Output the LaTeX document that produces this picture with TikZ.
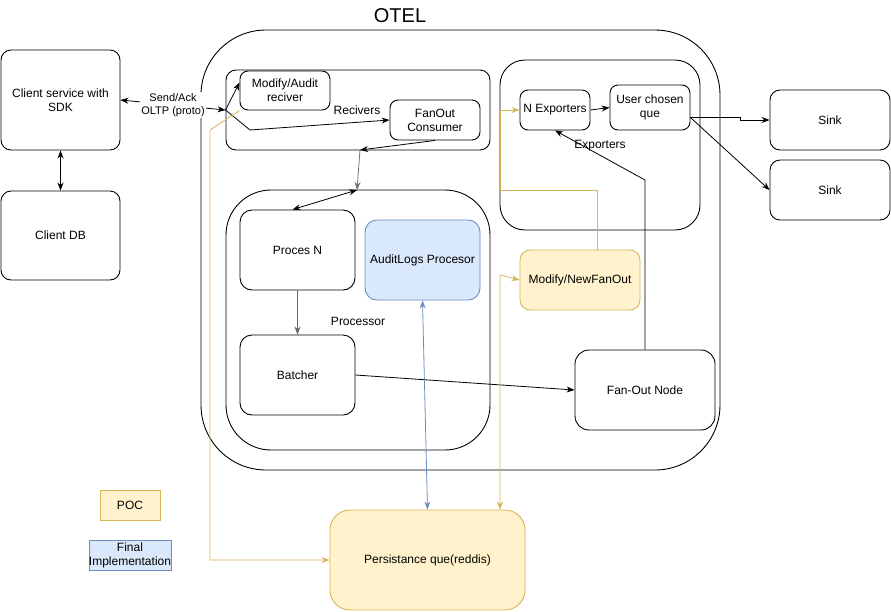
\documentclass[tikz,border=0pt]{standalone}
\usepackage{fontspec}
\setmainfont{Liberation Sans}
\usetikzlibrary{arrows.meta}
\definecolor{pocfill}{HTML}{FFF2CC}
\definecolor{pocdraw}{HTML}{D6B656}
\definecolor{finfill}{HTML}{DAE8FC}
\definecolor{findraw}{HTML}{6C8EBF}
\begin{document}
\begin{tikzpicture}[x=1pt,y=-1pt,
  every node/.style={font=\fontsize{12}{14}\selectfont},
  box/.style={draw, rounded corners=#1, inner sep=0pt, align=center, line width=0.9pt},
  box/.default=10pt,
  container/.style={draw, rounded corners=#1, inner sep=0pt, line width=0.9pt},
  poc/.style={fill=pocfill, draw=pocdraw},
  fin/.style={fill=finfill, draw=findraw},
  tip/.style={Stealth[length=8pt,width=6pt]},
  arr/.style={-{Stealth[length=8pt,width=6pt]}, line width=0.8pt},
  darr/.style={{Stealth[length=8pt,width=6pt]}-{Stealth[length=8pt,width=6pt]}, line width=0.8pt},
  yarr/.style={arr, draw=pocdraw},
  lbl/.style={font=\fontsize{12}{14}\selectfont}
]
\useasboundingbox (0,0) rectangle (891,611);

% containers
\node[container=65pt, minimum width=519pt, minimum height=440pt] (otel) at (460.5,250) {};
\node[lbl, font=\fontsize{20}{24}\selectfont] (oteltitle) at (400,16) {OTEL};
\node[container=10pt, minimum width=264pt, minimum height=80pt] (recv) at (358,110) {};
\node[lbl] (recvlbl) at (357,110) {Recivers};
\node[container=25pt, minimum width=200pt, minimum height=170pt] (expc) at (600,145) {};
\node[container=45pt, minimum width=264pt, minimum height=260pt] (procc) at (358,320) {};
\node[lbl] (proclbl) at (358,321) {Processor};

% nodes
\node[box, minimum width=119pt, minimum height=100pt] (client) at (60.5,100) {Client service with\\SDK};
\node[box, minimum width=119pt, minimum height=89pt] (clientdb) at (60.5,235.5) {Client DB};
\node[box=8pt, minimum width=90pt, minimum height=39pt] (mar) at (285,90.5) {Modify/Audit\\reciver};
\node[box=8pt, minimum width=90pt, minimum height=40pt] (fanout) at (435,120) {FanOut\\Consumer};
\node[box=8pt, minimum width=70pt, minimum height=40pt] (nexp) at (555,110) {N Exporters};
\node[box=8pt, minimum width=80pt, minimum height=45pt] (ucq) at (650,107.5) {User chosen\\que};
\node[box, minimum width=120pt, minimum height=60pt] (sink1) at (830,120) {Sink};
\node[box, minimum width=120pt, minimum height=60pt] (sink2) at (830,190) {Sink};
\node[box=12pt, minimum width=115pt, minimum height=80pt] (procn) at (297.5,250) {Proces N};
\node[box=12pt, fin, minimum width=115pt, minimum height=80pt] (alp) at (422.5,260) {AuditLogs Procesor};
\node[box=12pt, minimum width=115pt, minimum height=80pt] (batcher) at (297.5,375) {Batcher};
\node[box, poc, minimum width=120pt, minimum height=60pt] (mnf) at (580,280) {Modify/NewFanOut};
\node[box=14pt, minimum width=140pt, minimum height=80pt] (fon) at (645,390) {Fan-Out Node};
\node[box=20pt, poc, minimum width=195pt, minimum height=100pt] (persist) at (427.5,560) {Persistance que(reddis)};
\node[draw=pocdraw, fill=pocfill, inner sep=0pt, line width=0.9pt, minimum width=60pt, minimum height=30pt] (pocleg) at (130,505) {POC};
\node[draw=findraw, fill=finfill, inner sep=0pt, line width=0.9pt, minimum width=60pt, minimum height=30pt, align=center] (finleg) at (130,555) {Final\\Implementation};

% connectors
\draw[darr] (client.east) -- node[lbl, fill=white, inner sep=1pt, align=center, font=\fontsize{11}{13}\selectfont] (sendlbl) {Send/Ack\\OLTP (proto)} (recv.west);
\draw[darr] (client.south) -- (clientdb.north);
\draw[arr] (recv.west) -- ([yshift=8pt]mar.west);
\coordinate (b1) at (250,130);
\draw[arr] (recv.west) -- (b1) -- (fanout.west);
\coordinate (y0) at (210,130);
\draw[yarr] (mar.south west) -- (y0) |- (persist.west);
\coordinate (j1) at (360,150);
\coordinate (j2) at (357,190);
\draw[arr] (fanout.south) -- (j1);
\draw[arr, draw=black!55] (j1) -- (j2);
\draw[darr] (j2) -- ([xshift=-5pt]procn.north);
\draw[arr, draw=black!60] (procn.south) -- (batcher.north);
\draw[arr] (batcher.east) -- (fon.west);
\coordinate (f1) at (645,180);
\draw[arr] (fon.north) -- (f1) -- (nexp.south);
\node[lbl] (explbl) at (600,146) {Exporters};
\draw[arr] (nexp.east) -- (ucq.west);
\draw[arr] ([yshift=-10pt]ucq.east) -- ++(50,0) |- (sink1.west);
\draw[arr] ([yshift=-10pt]ucq.east) -- (sink2.west);
\coordinate (m1) at (597,190);
\coordinate (m2) at (500,190);
\draw[yarr] ([xshift=17pt]mnf.north) -- (m1) -- (m2) |- (nexp.west);
\coordinate (p1) at (500,275);
\draw[{Stealth[length=8pt,width=6pt]}-{Stealth[length=8pt,width=6pt]}, line width=0.8pt, draw=pocdraw] ([xshift=72.5pt]persist.north) -- (p1) -- (mnf.west);
\draw[{Stealth[length=8pt,width=6pt]}-{Stealth[length=8pt,width=6pt]}, line width=0.8pt, draw=findraw] (alp.south) -- (persist.north);
\end{tikzpicture}
\end{document}
